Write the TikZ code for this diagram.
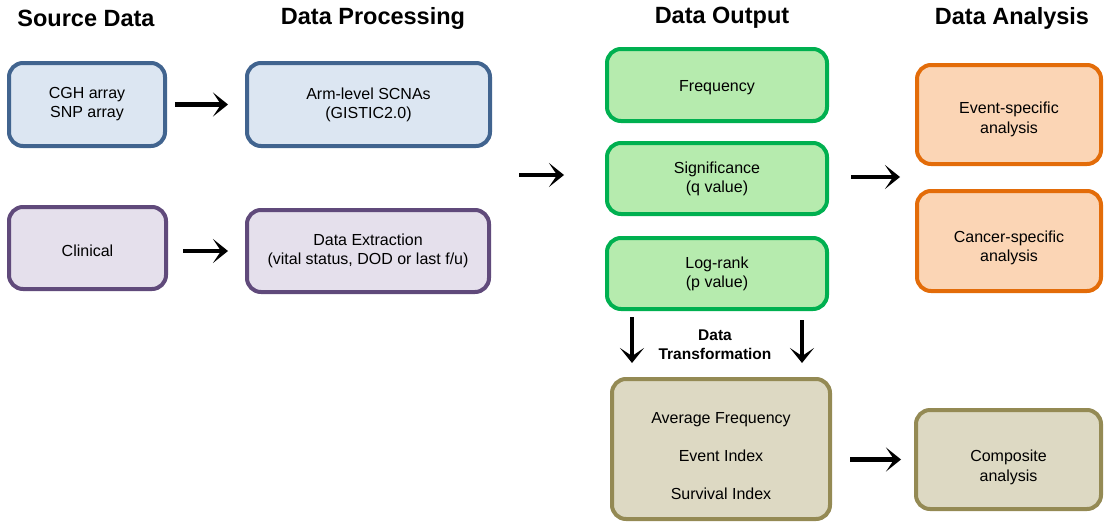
\documentclass[tikz,border=0pt]{standalone}
\usepackage{fontspec}
\setmainfont{Liberation Sans}
\usetikzlibrary{arrows.meta}
\definecolor{bluebd}{HTML}{41648F}
\definecolor{bluefl}{HTML}{DCE6F2}
\definecolor{purbd}{HTML}{604A7B}
\definecolor{purfl}{HTML}{E5E0EC}
\definecolor{grnbd}{HTML}{00B050}
\definecolor{grnfl}{HTML}{B6EBAE}
\definecolor{olvbd}{HTML}{948A54}
\definecolor{olvfl}{HTML}{DDD9C3}
\definecolor{orgbd}{HTML}{E36C09}
\definecolor{orgfl}{HTML}{FBD5B5}
\tikzset{
  box/.style={rounded corners=14pt, line width=4pt, inner sep=0pt, align=center,
    font=\fontsize{16}{19}\selectfont, execute at begin node={\rule{0pt}{17pt}}},
  lab/.style={align=center, font=\fontsize{16}{19.5}\selectfont},
  bluebox/.style={box, draw=bluebd, fill=bluefl},
  purbox/.style={box, draw=purbd, fill=purfl},
  grnbox/.style={box, draw=grnbd, fill=grnfl},
  olvbox/.style={box, draw=olvbd, fill=olvfl},
  orgbox/.style={box, draw=orgbd, fill=orgfl},
  heading/.style={font=\fontsize{23.5}{26}\selectfont\bfseries},
  bigarrow/.style={line width=4.5pt, -{Stealth[length=15pt,width=24pt,inset=8pt]}}
}
\begin{document}
\begin{tikzpicture}[x=1pt,y=-1pt]
\useasboundingbox (0,0) rectangle (1105,525);
% headings
\node[heading] (h1) at (86,18) {Source Data};
\node[heading] (h2) at (373,18) {Data Processing};
\node[heading] (h3) at (722,18) {Data Output};
\node[heading] (h4) at (1012,18) {Data Analysis};
% boxes
\node[bluebox, minimum width=156pt, minimum height=83pt] (cgh) at (87,104.5) {CGH array\\SNP array};
\node[bluebox, minimum width=243pt, minimum height=83pt] (arm) at (368.5,104.5) {Arm-level SCNAs\\(GISTIC2.0)};
\node[purbox, minimum width=157pt, minimum height=82pt] (clin) at (87.5,248) {Clinical};
\node[purbox, minimum width=242pt, minimum height=82pt] (ext) at (368,251) {Data Extraction\\(vital status, DOD or last f/u)};
\node[grnbox, minimum width=220pt, minimum height=72pt] (freq) at (717,85) {Frequency};
\node[grnbox, minimum width=220pt, minimum height=71pt] (sig) at (717,178.5) {Significance\\(q value)};
\node[grnbox, minimum width=220pt, minimum height=71pt] (logr) at (717,273.5) {Log-rank\\(p value)};
\node[olvbox, minimum width=218pt, minimum height=140pt,
  label={[lab, font=\fontsize{16}{38}\selectfont, yshift=-7pt]center:Average Frequency\\Event Index\\Survival Index}] (avg) at (721,449) {};
\node[orgbox, minimum width=184pt, minimum height=99pt,
  label={[lab, yshift=-5pt]center:Event-specific\\analysis}] (evt) at (1009,114.5) {};
\node[orgbox, minimum width=184pt, minimum height=100pt,
  label={[lab, yshift=-7pt]center:Cancer-specific\\analysis}] (can) at (1009,241) {};
\node[olvbox, minimum width=185pt, minimum height=99pt,
  label={[lab, yshift=-8pt]center:Composite\\analysis}] (comp) at (1008.5,459.5) {};
\node[font=\fontsize{15.5}{19}\selectfont\bfseries, align=center] (dt) at (715,345) {Data\\Transformation};
% arrow end points
\coordinate (a3s) at (519,175);
\coordinate (a3e) at (564,175);
\coordinate (a4s) at (851,177);
\coordinate (a4e) at (900,177);
\coordinate (d1s) at (632,317);
\coordinate (d1e) at (632,363);
\coordinate (d2s) at (802,320);
\coordinate (d2e) at (802,363);
% arrows
\draw[bigarrow, shorten <=8pt, shorten >=17pt] (cgh) -- (arm);
\draw[bigarrow, shorten <=15pt, shorten >=17pt] (clin.east |- ext) -- (ext);
\draw[bigarrow] (a3s) -- (a3e);
\draw[bigarrow] (a4s) -- (a4e);
\draw[bigarrow] (d1s) -- (d1e);
\draw[bigarrow] (d2s) -- (d2e);
\draw[bigarrow, shorten <=18pt, shorten >=13pt] (avg.east |- comp) -- (comp);
\end{tikzpicture}
\end{document}
